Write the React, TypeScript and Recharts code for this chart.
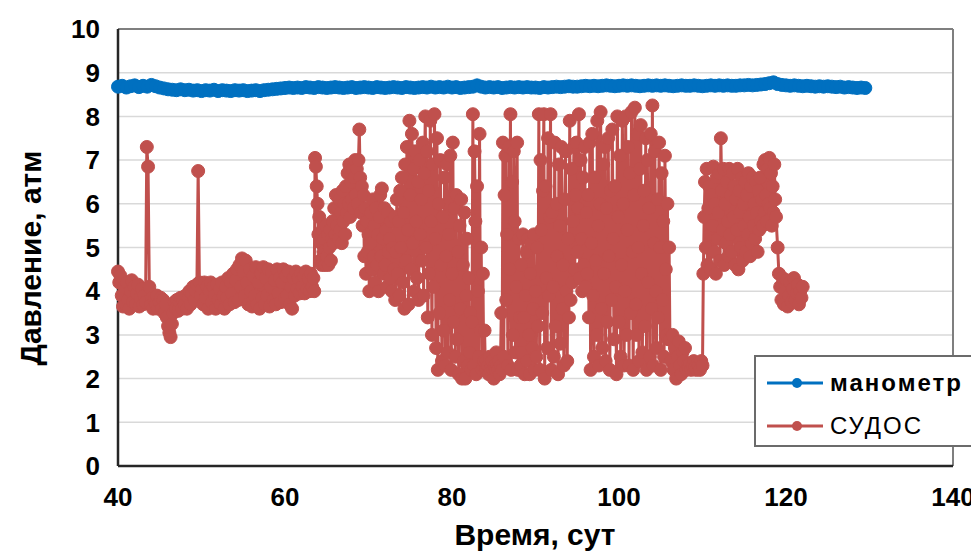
import { LineChart, Line, XAxis, YAxis, CartesianGrid, ReferenceLine, Label } from 'recharts';

const X_TICKS = [40, 60, 80, 100, 120, 140];
const Y_TICKS = [0, 1, 2, 3, 4, 5, 6, 7, 8, 9, 10];

const BLUE = '#0070C0';
const RED = '#C0504D';
const FONT = '"Liberation Sans", Arial, sans-serif';

// манометр: readings every 0.5 day from day 40
const manometerValues = [
  8.68, 8.7, 8.66, 8.69, 8.71, 8.67, 8.7, 8.68, 8.72, 8.69,
  8.66, 8.64, 8.62, 8.61, 8.6, 8.62, 8.6, 8.61, 8.59, 8.6,
  8.58, 8.6, 8.59, 8.61, 8.58, 8.6, 8.59, 8.58, 8.6, 8.59,
  8.6, 8.58, 8.59, 8.6, 8.58, 8.6, 8.61, 8.62, 8.63, 8.64,
  8.65, 8.66, 8.65, 8.66, 8.65, 8.67, 8.66, 8.65, 8.67, 8.66,
  8.65, 8.66, 8.67, 8.66, 8.65, 8.66, 8.67, 8.65, 8.66, 8.67,
  8.66, 8.65, 8.67, 8.66, 8.65, 8.66, 8.67, 8.66, 8.65, 8.67,
  8.66, 8.65, 8.66, 8.67, 8.66, 8.68, 8.66, 8.67, 8.66, 8.68,
  8.66, 8.67, 8.65, 8.66, 8.67, 8.68, 8.71, 8.68, 8.66, 8.67,
  8.66, 8.67, 8.65, 8.66, 8.67, 8.66, 8.67, 8.66, 8.67, 8.66,
  8.66, 8.65, 8.67, 8.66, 8.67, 8.68, 8.67, 8.68, 8.69, 8.68,
  8.68, 8.69, 8.7, 8.69, 8.7, 8.69, 8.7, 8.71, 8.7, 8.69,
  8.7, 8.71, 8.7, 8.71, 8.7, 8.69, 8.7, 8.71, 8.7, 8.71,
  8.7, 8.71, 8.7, 8.69, 8.7, 8.71, 8.7, 8.7, 8.71, 8.7,
  8.69, 8.7, 8.71, 8.7, 8.71, 8.7, 8.71, 8.7, 8.7, 8.71,
  8.71, 8.72, 8.71, 8.72, 8.73, 8.74, 8.76, 8.78, 8.74, 8.72,
  8.71, 8.7, 8.71, 8.7, 8.69, 8.7, 8.69, 8.68, 8.69, 8.68,
  8.69, 8.68, 8.67, 8.68, 8.66, 8.67, 8.66, 8.65, 8.66, 8.65,
];

// СУДОС, by stretch of the record
const sudosEarly = [
  4.45, 4.2, 4.35, 3.9, 3.65, 4.1, 3.7, 4.2, 3.8, 3.6,
  4.0, 4.25, 3.75, 4.1, 3.7, 3.95, 4.15, 3.65, 3.85, 4.05,
  3.7, 3.9, 3.75, 7.3, 6.85, 4.1, 3.7, 3.85, 3.6, 3.8,
  3.7, 3.9, 3.6, 3.75, 3.85, 3.6, 3.8, 3.5, 3.7, 3.4,
  3.2, 3.05, 2.95, 3.25, 3.5, 3.75, 3.6, 3.8, 3.55, 3.75,
  3.85, 3.6, 3.8, 3.7, 3.9, 3.6, 3.85, 4.0, 3.7, 3.95,
  4.1, 3.8, 4.0, 4.15, 6.75, 4.2, 3.9, 4.05, 3.7, 4.2,
  3.85, 4.1, 3.6, 4.0, 4.2, 3.75, 4.1, 3.9, 3.6, 4.15,
  3.8, 4.05, 3.7, 4.2, 3.9, 3.6, 4.1, 3.85, 4.3, 3.7,
  4.2, 3.95, 4.4, 3.75, 4.25, 4.5, 3.8, 4.6, 4.1, 4.75,
  4.45, 3.9, 4.7, 4.2, 3.7, 4.5, 4.0, 3.65, 4.35, 3.9,
  4.55, 3.7, 4.2, 3.6, 4.4, 3.85, 4.55, 3.7, 4.3, 3.9,
  4.5, 3.65, 4.1, 4.45, 3.8, 4.25, 3.7, 4.5, 3.95, 4.3,
  3.75, 4.2, 4.5, 3.85, 4.35, 3.9, 4.45, 3.7, 4.1, 3.6,
  4.3, 3.9, 4.45, 4.05, 4.3, 3.95, 4.4, 4.1, 4.35, 3.95,
  4.45, 4.05, 4.3, 4.0, 4.4, 4.1, 4.3,
];

const sudosRise = [
  4.0, 7.05, 6.85, 6.4, 6.0, 5.3, 5.7, 4.7, 5.1, 4.6,
  5.4, 4.9, 5.2, 4.6, 5.5, 4.8, 5.3, 4.6, 5.0, 5.4,
  4.7, 5.2, 5.6, 5.1, 5.9, 5.3, 6.2, 5.5, 5.9, 5.2,
  6.1, 5.4, 5.8, 5.1, 6.3, 5.6, 6.0, 5.3, 6.4, 5.8,
  6.7, 6.0, 6.9, 5.7, 6.5, 6.1, 6.8, 5.9, 6.6, 7.0,
  6.2, 6.8, 6.0, 7.0, 7.7, 6.6, 5.8, 6.4, 5.5, 6.2,
  4.8, 5.9, 4.4, 5.6, 4.9, 5.3, 4.0, 5.1, 5.8, 4.5,
  6.1, 4.8, 5.5, 4.2, 5.9, 4.6, 5.3, 4.0, 5.7, 6.2,
  4.8, 6.35, 5.2, 4.4, 5.9, 4.6, 5.4, 4.1, 5.8, 4.9,
  5.2, 4.3, 5.6, 4.0, 5.0, 4.5, 5.7, 3.8, 4.9, 6.1,
  4.4, 5.6, 3.9, 6.3, 5.0, 6.6, 4.2, 5.8, 3.6, 6.9,
  4.7, 7.3, 5.4, 3.7, 7.9, 6.2, 4.5, 7.6, 5.1, 6.8,
  4.0, 7.2, 5.6, 4.3, 6.5, 3.8, 7.0, 5.3, 6.1, 4.7,
  7.4, 3.9, 6.7, 8.0, 5.0, 7.2, 3.4, 6.3, 4.4, 7.9,
  5.6, 3.0, 6.9, 4.1, 8.05, 5.2, 2.7, 7.5, 2.2, 6.0,
  3.5, 7.0, 4.6, 2.4, 5.7, 3.1, 6.6, 2.3, 4.8, 6.9,
  2.6, 5.3, 3.8, 7.1, 2.2, 4.4, 7.4, 3.3, 5.9, 2.5,
  6.2, 2.9, 4.9, 2.1, 5.5, 3.6, 6.1, 2.0, 4.6, 2.4,
  5.8, 2.0, 3.9, 5.2, 2.3, 4.3, 2.6, 3.5, 2.2,
];

const sudosSwing = [
  3.3, 8.05, 2.3, 7.2, 5.6, 2.1, 6.4, 4.0, 2.5, 7.6,
  3.1, 5.0, 2.2, 4.4, 2.4, 3.1, 2.2, 2.4, 2.2, 2.3,
  2.1, 2.5, 2.2, 2.3, 2.4, 2.2, 2.0, 2.3, 2.2, 2.6,
  2.3, 2.2, 2.4, 2.1, 2.3, 3.5, 2.2, 7.4, 2.5, 6.2,
  7.1, 3.8, 5.3, 2.3, 7.3, 4.5, 8.05, 2.2, 6.5, 3.0,
  7.2, 5.6, 2.6, 4.1, 7.4, 2.2, 5.2, 3.4, 2.3, 4.6,
  2.6, 5.3, 3.4, 2.1, 3.9, 4.9, 2.4, 5.2, 3.0, 2.1,
  4.4, 5.1, 2.7, 3.6, 5.3, 2.2, 4.0, 2.5, 5.0, 3.2,
  8.05, 2.2, 7.0, 5.4, 3.5, 6.3, 8.05, 2.0, 6.4, 4.3,
  2.7, 7.5, 3.9, 5.7, 8.05, 2.2, 5.8, 4.1, 2.5, 7.4,
  3.2, 6.0, 4.8, 2.1, 6.9, 5.5, 2.8, 7.3, 3.6, 4.6,
  2.3, 6.1, 7.2, 4.0, 2.4, 5.2, 3.4, 7.9, 3.8, 6.8,
  4.2, 5.6, 7.3, 4.5, 6.2, 7.4, 4.9, 5.9, 8.05, 4.3,
  7.0, 5.2, 4.0, 6.6, 4.6, 7.3, 4.1, 5.8, 4.4, 6.2,
  3.4, 7.4, 2.2, 5.1, 7.6, 3.9, 2.5, 6.6, 4.7, 3.0,
  7.9, 5.5, 2.3, 6.0, 8.1, 3.6, 2.7, 6.9, 4.4, 7.3,
  2.4, 5.9, 3.3, 7.5, 4.8, 2.2, 6.3, 3.8, 7.7, 5.2,
  2.9, 6.4, 4.1, 2.1, 8.0, 5.7, 3.3, 7.1, 2.5, 4.6,
  7.9, 6.0, 2.3, 4.0, 8.0, 3.0, 5.4, 7.3, 2.3, 6.7,
  3.5, 8.1, 4.9, 2.2, 6.2, 8.2, 3.7, 3.0, 7.6, 5.0,
  2.4, 6.8, 7.8, 4.4, 2.6, 5.5, 6.3, 3.2, 7.5, 2.2,
  7.0, 4.2, 5.9, 2.5, 7.6, 3.6, 8.25, 2.3, 5.1, 7.2,
  4.0, 2.7, 6.1, 3.4, 7.4, 5.0, 2.2, 6.7, 3.8, 5.6,
  2.5, 7.1, 4.5, 3.0, 6.0, 2.9, 5.0,
];

const sudosLow = [
  2.9, 2.4, 3.0, 2.2, 2.7, 2.0, 2.5, 2.85, 2.3, 2.1,
  2.6, 2.4, 2.7, 2.2, 2.3, 2.25, 2.35, 2.2, 2.3, 2.4,
  2.25, 2.2, 2.35, 2.3, 2.2, 2.4, 2.3,
];

const sudosLate = [
  4.4, 5.7, 6.5, 5.0, 6.8, 4.6, 5.9, 6.4, 5.3, 4.5,
  6.2, 5.5, 6.85, 4.9, 6.0, 4.4, 6.6, 5.2, 5.8, 6.7,
  4.7, 7.5, 6.3, 5.4, 6.8, 4.6, 6.0, 5.1, 6.5, 5.6,
  4.8, 6.8, 5.3, 6.2, 4.9, 6.7, 5.7, 6.4, 4.6, 6.1,
  5.4, 6.8, 4.5, 6.3, 5.8, 5.0, 6.6, 4.7, 6.0, 5.5,
  6.5, 4.9, 6.2, 5.3, 6.7, 5.7, 4.8, 6.4, 5.1, 6.6,
  5.5, 6.0, 5.2, 6.5, 5.8, 4.9, 6.3, 5.4, 6.6, 5.6,
  6.1, 5.5, 6.9, 5.8, 7.0, 6.2, 5.6, 6.8, 6.0, 7.05,
  5.9, 6.7, 5.5, 6.4, 5.8, 6.9, 6.1, 5.7,
];

const sudosTail = [
  5.0, 4.4, 4.1, 3.8, 4.3, 3.7, 4.0, 4.25, 3.65, 3.9,
  4.2, 3.75, 4.05, 4.3, 3.8, 3.95, 4.15, 3.7, 4.0, 3.85,
  4.1,
];

// [first day, sampling step in days, readings]
const SUDOS_RUNS: [number, number, number[]][] = [
  [40, 0.15, sudosEarly],
  [63.5, 0.1, sudosRise],
  [82.4, 0.1, sudosSwing],
  [106.1, 0.15, sudosLow],
  [110.1, 0.1, sudosLate],
  [119, 0.15, sudosTail],
];

const manometerData = manometerValues.map((v, i) => ({ t: 40 + i * 0.5, v }));
const sudosData = SUDOS_RUNS.flatMap(([start, step, values]) =>
  values.map((v, i) => ({ t: +(start + i * step).toFixed(2), v }))
);

const tickStyle = { fill: '#000', fontSize: 26, fontWeight: 700, fontFamily: FONT };

function LegendBox() {
  const rows = [
    { name: 'манометр', color: BLUE, bold: true },
    { name: 'СУДОС', color: RED, bold: false },
  ];
  return (
    <div
      style={{
        position: 'absolute',
        left: 746,
        top: 347,
        width: 221,
        height: 92,
        boxSizing: 'border-box',
        border: '2px solid #6b6b6b',
        background: '#fff',
        fontFamily: FONT,
      }}
    >
      {rows.map((r, i) => (
        <div key={r.name} style={{ position: 'absolute', left: 10, top: 11 + i * 43, height: 30, display: 'flex', alignItems: 'center' }}>
          <svg width={58} height={14} style={{ display: 'block' }}>
            <line x1={1} y1={7} x2={57} y2={7} stroke={r.color} strokeWidth={3} />
            <circle cx={31} cy={7} r={5} fill={r.color} />
          </svg>
          <span style={{ marginLeft: 6, fontSize: 24, fontWeight: r.bold ? 700 : 400, letterSpacing: 2, color: '#000' }}>
            {r.name}
          </span>
        </div>
      ))}
    </div>
  );
}

export default function App() {
  return (
    <div style={{ position: 'relative', width: 971, height: 546 }}>
      <LineChart width={971} height={546} margin={{ top: 21, right: 26, bottom: 0, left: 0 }}>
        <CartesianGrid vertical={false} stroke="#d9d9d9" strokeWidth={1.5} />
        <XAxis
          type="number"
          dataKey="t"
          domain={[40, 140]}
          ticks={X_TICKS}
          height={88}
          tickLine={false}
          tickSize={0}
          tickMargin={22}
          axisLine={{ stroke: '#262626', strokeWidth: 2.5 }}
          tick={tickStyle}
        >
          <Label
            content={() => (
              <text x={527} y={537} textAnchor="middle" fontSize={30} fontWeight={700} fontFamily={FONT} fill="#000">
                Время, сут
              </text>
            )}
          />
        </XAxis>
        <YAxis
          type="number"
          domain={[0, 10]}
          ticks={Y_TICKS}
          width={110}
          tickLine={false}
          tickSize={0}
          tickMargin={18}
          axisLine={{ stroke: '#262626', strokeWidth: 2.5 }}
          tick={tickStyle}
        >
          <Label
            content={() => (
              <text
                x={22}
                y={250}
                transform="rotate(-90 22 250)"
                textAnchor="middle"
                dominantBaseline="central"
                fontSize={30}
                fontWeight={700}
                fontFamily={FONT}
                fill="#000"
              >
                Давление, атм
              </text>
            )}
          />
        </YAxis>
        <ReferenceLine y={10} stroke="#7f7f7f" strokeWidth={2} />
        <ReferenceLine x={140} stroke="#7f7f7f" strokeWidth={2} />
        <Line
          data={manometerData}
          dataKey="v"
          name="манометр"
          type="linear"
          stroke={BLUE}
          strokeWidth={3}
          dot={{ r: 6.5, fill: BLUE, stroke: BLUE, strokeWidth: 1 }}
          isAnimationActive={false}
        />
        <Line
          data={sudosData}
          dataKey="v"
          name="СУДОС"
          type="linear"
          stroke={RED}
          strokeWidth={3}
          dot={{ r: 6.5, fill: RED, stroke: RED, strokeWidth: 1 }}
          isAnimationActive={false}
        />
      </LineChart>
      <LegendBox />
    </div>
  );
}
